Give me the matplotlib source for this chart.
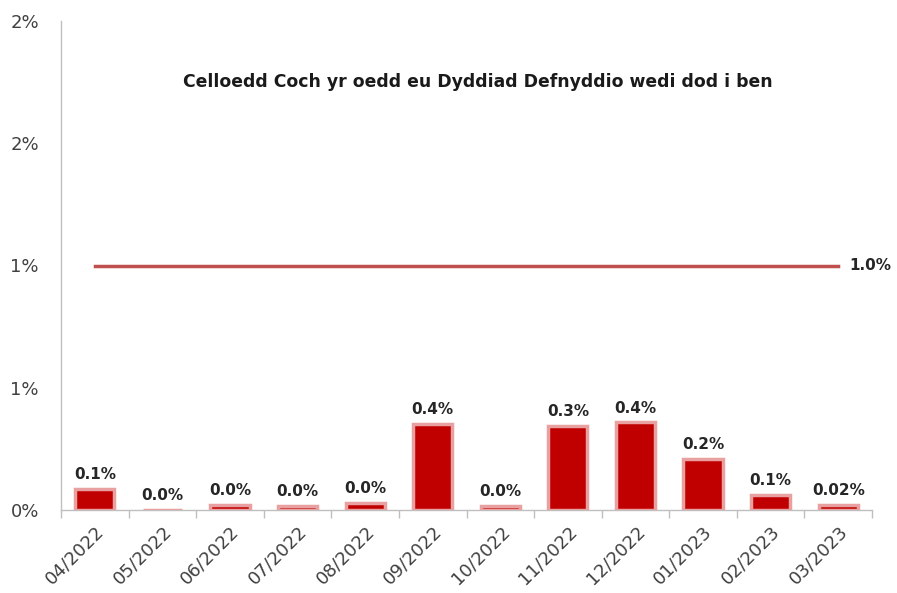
import matplotlib
matplotlib.use("Agg")
import matplotlib.pyplot as plt
import numpy as np
import math
from matplotlib.ticker import FuncFormatter

categories = ["04/2022", "05/2022", "06/2022", "07/2022", "08/2022", "09/2022",
              "10/2022", "11/2022", "12/2022", "01/2023", "02/2023", "03/2023"]
values = [0.085, 0.0, 0.02, 0.015, 0.03, 0.35, 0.015, 0.345, 0.358, 0.21, 0.06, 0.02]
value_labels = ["0.1%", "0.0%", "0.0%", "0.0%", "0.0%", "0.4%", "0.0%", "0.3%",
                "0.4%", "0.2%", "0.1%", "0.02%"]
target = 1.0
target_label = "1.0%"
title = "Celloedd Coch yr oedd eu Dyddiad Defnyddio wedi dod i ben"
yticks = [0, 0.5, 1.0, 1.5, 2.0]

plt.rcParams['font.family'] = ['DejaVu Sans']

fig = plt.figure(figsize=(8.97, 5.93), dpi=100)
ax = fig.add_axes([61/897, 1 - 510/593, (872 - 61)/897, (510 - 21)/593])

x = np.arange(len(categories))
ax.bar(x, values, width=0.58, color="#C00000", edgecolor="#E8A0A0", linewidth=2.5, zorder=3)

ax.plot([x[0], x[-1]], [target, target], color="#C0504D", linewidth=2.5, zorder=2)
ax.annotate(target_label, xy=(x[-1], target), xytext=(8, 0), textcoords="offset points",
            ha="left", va="center", fontsize=11, fontweight="bold", color="#262626")

for xi, v, lab in zip(x, values, value_labels):
    ax.annotate(lab, xy=(xi, v), xytext=(0, 5), textcoords="offset points",
                ha="center", va="bottom", fontsize=11, fontweight="bold", color="#262626")

ax.text(0.514, 0.875, title, transform=ax.transAxes, ha="center", va="center",
        fontsize=12.4, fontweight="bold", color="#1a1a1a")

ax.set_xlim(-0.5, len(categories) - 0.5)
ax.set_ylim(0, 2.0)
ax.set_yticks(yticks)
ax.yaxis.set_major_formatter(FuncFormatter(lambda v, p: f"{math.floor(v + 0.5):d}%"))
ax.tick_params(axis="y", length=0, pad=16, labelsize=13, labelcolor="#404040")

ax.set_xticks(x)
ax.set_xticklabels(categories, rotation=45, ha="right", rotation_mode="anchor",
                   fontsize=13, color="#404040")
ax.tick_params(axis="x", length=0, pad=9)
ax.set_xticks(np.arange(-0.5, len(categories)), minor=True)
ax.tick_params(axis="x", which="minor", length=6, color="#BFBFBF", width=1)

for s in ["top", "right"]:
    ax.spines[s].set_visible(False)
for s in ["left", "bottom"]:
    ax.spines[s].set_color("#BFBFBF")
    ax.spines[s].set_linewidth(1)

fig.savefig("out.png", dpi=100, facecolor="white")
